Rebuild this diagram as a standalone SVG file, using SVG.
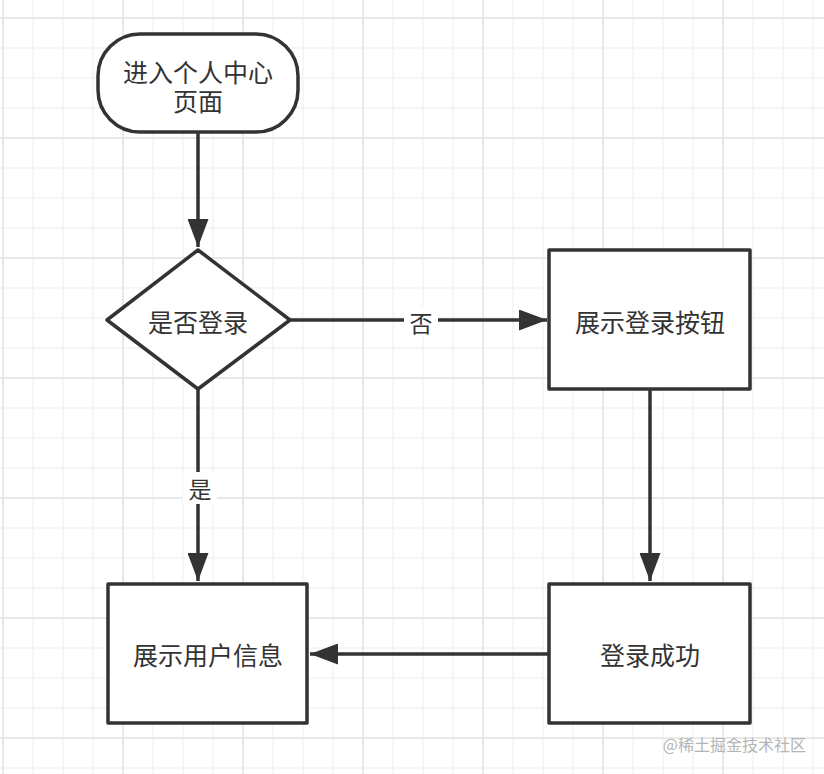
<svg xmlns="http://www.w3.org/2000/svg" width="824" height="774" viewBox="0 0 824 774">
<style>
.shape{fill:#fff;stroke:#333;stroke-width:3.5;stroke-linejoin:round}
.edge{fill:none;stroke:#333;stroke-width:3.5}
.t{font-family:"Noto Sans CJK SC","Noto Sans",sans-serif;font-size:25px;fill:#333;text-anchor:middle;dominant-baseline:central}
.lbl{font-family:"Noto Sans CJK SC","Noto Sans",sans-serif;font-size:23px;fill:#333;text-anchor:middle;dominant-baseline:central}
.g1{stroke:#ededed;stroke-width:1;fill:none}
.g2{stroke:#e8e8e8;stroke-width:2;fill:none}
</style>
<defs>
<marker id="ah" markerWidth="8" markerHeight="6" refX="8" refY="3" orient="auto" markerUnits="strokeWidth">
<path d="M0,0 L8,3 L0,6 Z" fill="#333"/>
</marker>
</defs>
<rect width="824" height="774" fill="#fff"/>
<g id="grid">
<path class="g1" d="M33,0V774M63,0V774M93,0V774M153,0V774M183,0V774M213,0V774M273,0V774M303,0V774M333,0V774M393,0V774M423,0V774M453,0V774M513,0V774M543,0V774M573,0V774M633,0V774M663,0V774M693,0V774M753,0V774M783,0V774M813,0V774M0,48H824M0,78H824M0,108H824M0,168H824M0,198H824M0,228H824M0,288H824M0,318H824M0,348H824M0,408H824M0,438H824M0,468H824M0,528H824M0,558H824M0,588H824M0,648H824M0,678H824M0,708H824M0,768H824"/>
<path class="g2" d="M3,0V774M123,0V774M243,0V774M363,0V774M483,0V774M603,0V774M723,0V774M0,18H824M0,138H824M0,258H824M0,378H824M0,498H824M0,618H824M0,738H824"/>
</g>
<g id="connectors">
<path class="edge" d="M198,133V247" marker-end="url(#ah)"/>
<path class="edge" d="M290,320H547" marker-end="url(#ah)"/>
<path class="edge" d="M198,389V581" marker-end="url(#ah)"/>
<path class="edge" d="M650,389V581" marker-end="url(#ah)"/>
<path class="edge" d="M549,654H310" marker-end="url(#ah)"/>
<rect x="404" y="306" width="34" height="30" fill="#fff"/>
<text class="lbl" x="421" y="322">否</text>
<rect x="183" y="472" width="34" height="32" fill="#fff"/>
<text class="lbl" x="200" y="488">是</text>
</g>
<g id="start">
<rect class="shape" x="98" y="34" width="200" height="98" rx="42" ry="42"/>
<text class="t"><tspan x="198" y="71">进入个人中心</tspan><tspan x="198" y="100">页面</tspan></text>
</g>
<g id="decision">
<polygon class="shape" points="198,250 290,320 198,389 107,320"/>
<text class="t" x="198" y="321">是否登录</text>
</g>
<g id="showLogin">
<rect class="shape" x="549" y="250" width="201" height="139"/>
<text class="t" x="650" y="321">展示登录按钮</text>
</g>
<g id="showUser">
<rect class="shape" x="108" y="584" width="199" height="139"/>
<text class="t" x="208" y="654">展示用户信息</text>
</g>
<g id="loginOk">
<rect class="shape" x="549" y="584" width="201" height="139"/>
<text class="t" x="650" y="654">登录成功</text>
</g>
<text x="806" y="744" font-family="'Noto Sans CJK SC','Noto Sans',sans-serif" font-size="16" fill="#b5b5b5" text-anchor="end" dominant-baseline="central">@稀土掘金技术社区</text>
</svg>
